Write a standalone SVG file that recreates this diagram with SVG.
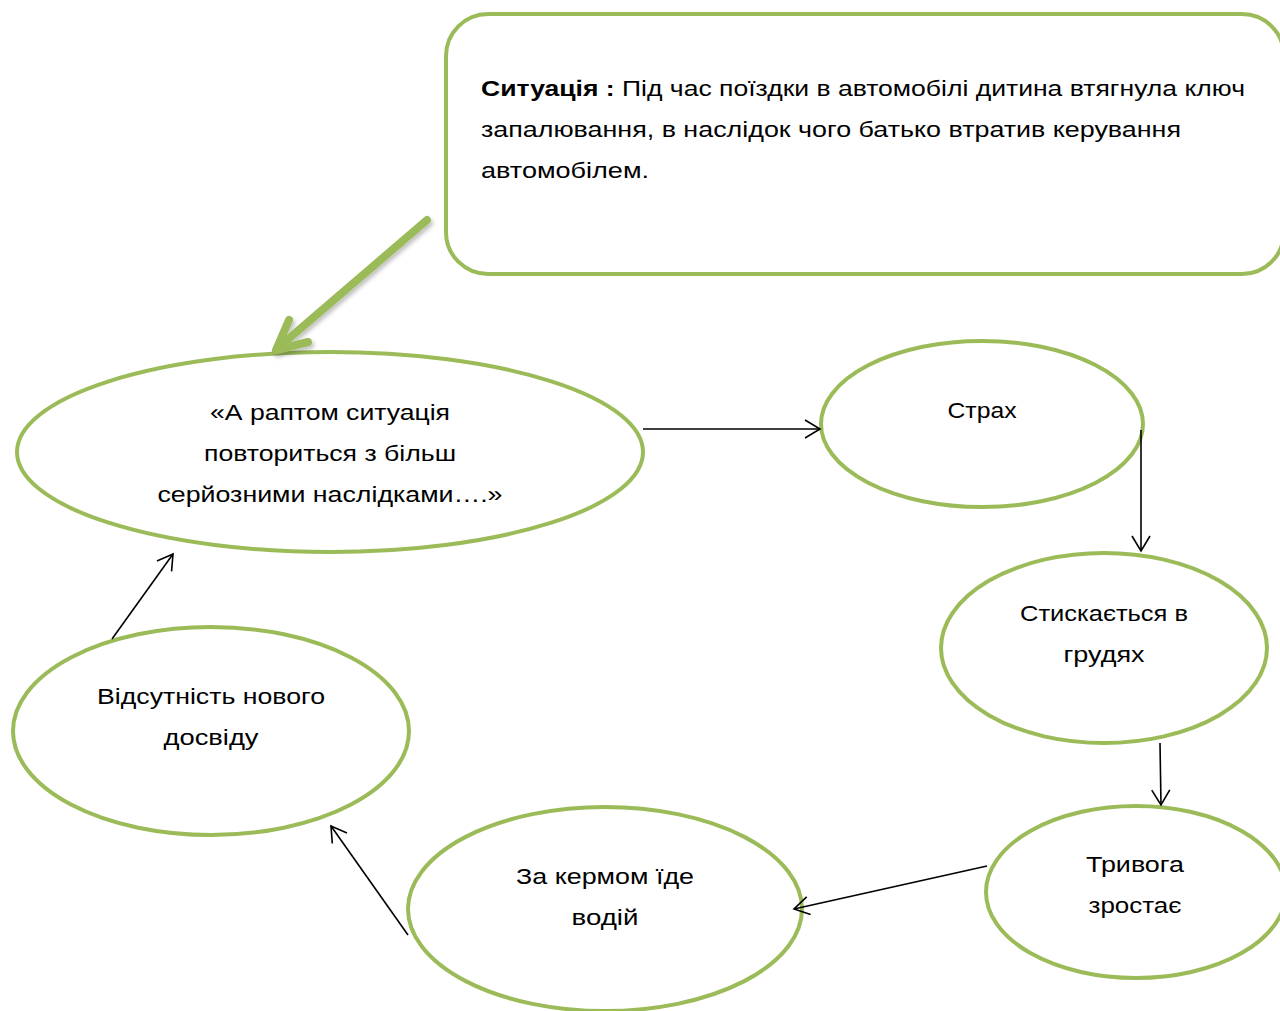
<svg xmlns="http://www.w3.org/2000/svg" width="1280" height="1011" viewBox="0 0 1280 1011">
<style>
.n{fill:#fff;stroke:#9BBB59;stroke-width:4}
.t{font-family:"Liberation Sans","Noto Sans",sans-serif;font-size:22px;fill:#000}
.c{text-anchor:middle}
.e{stroke:#000;stroke-width:1.6;fill:none}
</style>
<defs>
<marker id="a" markerWidth="20" markerHeight="20" refX="16" refY="10" orient="auto" markerUnits="userSpaceOnUse">
<path d="M1,1 L16,10 L1,19" fill="none" stroke="#000" stroke-width="1.6"/>
</marker>
<filter id="sh" x="-20%" y="-20%" width="140%" height="140%">
<feDropShadow dx="2" dy="3" stdDeviation="2" flood-color="#000" flood-opacity="0.25"/>
</filter>
</defs>
<rect width="1280" height="1011" fill="#fff"/>
<g id="situation">
<rect class="n" x="446" y="14" width="838" height="260" rx="42" ry="42"/>
<text class="t" x="481" y="96" textLength="764" lengthAdjust="spacingAndGlyphs"><tspan font-weight="bold">Ситуація :</tspan> Під час поїздки в автомобілі дитина втягнула ключ</text>
<text class="t" x="481" y="137" textLength="700" lengthAdjust="spacingAndGlyphs">запалювання, в наслідок чого батько втратив керування</text>
<text class="t" x="481" y="178" textLength="168" lengthAdjust="spacingAndGlyphs">автомобілем.</text>
</g>
<g id="thought">
<ellipse class="n" cx="330" cy="452" rx="313" ry="100"/>
<text class="t c" x="330" y="420" textLength="240" lengthAdjust="spacingAndGlyphs">«А раптом ситуація</text>
<text class="t c" x="330" y="461" textLength="252" lengthAdjust="spacingAndGlyphs">повториться з більш</text>
<text class="t c" x="330" y="502" textLength="345" lengthAdjust="spacingAndGlyphs">серйозними наслідками….»</text>
</g>
<g id="fear">
<ellipse class="n" cx="982" cy="424" rx="161" ry="83"/>
<text class="t c" x="982" y="418" textLength="69" lengthAdjust="spacingAndGlyphs">Страх</text>
</g>
<g id="chest">
<ellipse class="n" cx="1104" cy="648" rx="163" ry="95"/>
<text class="t c" x="1104" y="621" textLength="168" lengthAdjust="spacingAndGlyphs">Стискається в</text>
<text class="t c" x="1104" y="662" textLength="81" lengthAdjust="spacingAndGlyphs">грудях</text>
</g>
<g id="anxiety">
<ellipse class="n" cx="1136" cy="892" rx="150" ry="86"/>
<text class="t c" x="1135" y="872" textLength="98" lengthAdjust="spacingAndGlyphs">Тривога</text>
<text class="t c" x="1135" y="913" textLength="93" lengthAdjust="spacingAndGlyphs">зростає</text>
</g>
<g id="driver">
<ellipse class="n" cx="605" cy="909" rx="197" ry="102"/>
<text class="t c" x="605" y="884" textLength="178" lengthAdjust="spacingAndGlyphs">За кермом їде</text>
<text class="t c" x="605" y="925" textLength="67" lengthAdjust="spacingAndGlyphs">водій</text>
</g>
<g id="noexp">
<ellipse class="n" cx="211" cy="731" rx="198" ry="104"/>
<text class="t c" x="211" y="704" textLength="228" lengthAdjust="spacingAndGlyphs">Відсутність нового</text>
<text class="t c" x="211" y="745" textLength="95" lengthAdjust="spacingAndGlyphs">досвіду</text>
</g>
<g id="connectors">
<g stroke="#9BBB59" stroke-width="8" stroke-linecap="round" fill="none" filter="url(#sh)">
<line x1="427" y1="220" x2="279" y2="347"/>
<polyline points="289,320 276,350 308,342" stroke-linejoin="round"/>
</g>
<line class="e" x1="643" y1="429" x2="820" y2="429" marker-end="url(#a)"/>
<line class="e" x1="1141" y1="430" x2="1141" y2="551" marker-end="url(#a)"/>
<line class="e" x1="1160" y1="743" x2="1161" y2="805" marker-end="url(#a)"/>
<line class="e" x1="987" y1="866" x2="794" y2="909" marker-end="url(#a)"/>
<line class="e" x1="408" y1="935" x2="331" y2="826" marker-end="url(#a)"/>
<line class="e" x1="112" y1="639" x2="173" y2="554" marker-end="url(#a)"/>
</g>
</svg>
